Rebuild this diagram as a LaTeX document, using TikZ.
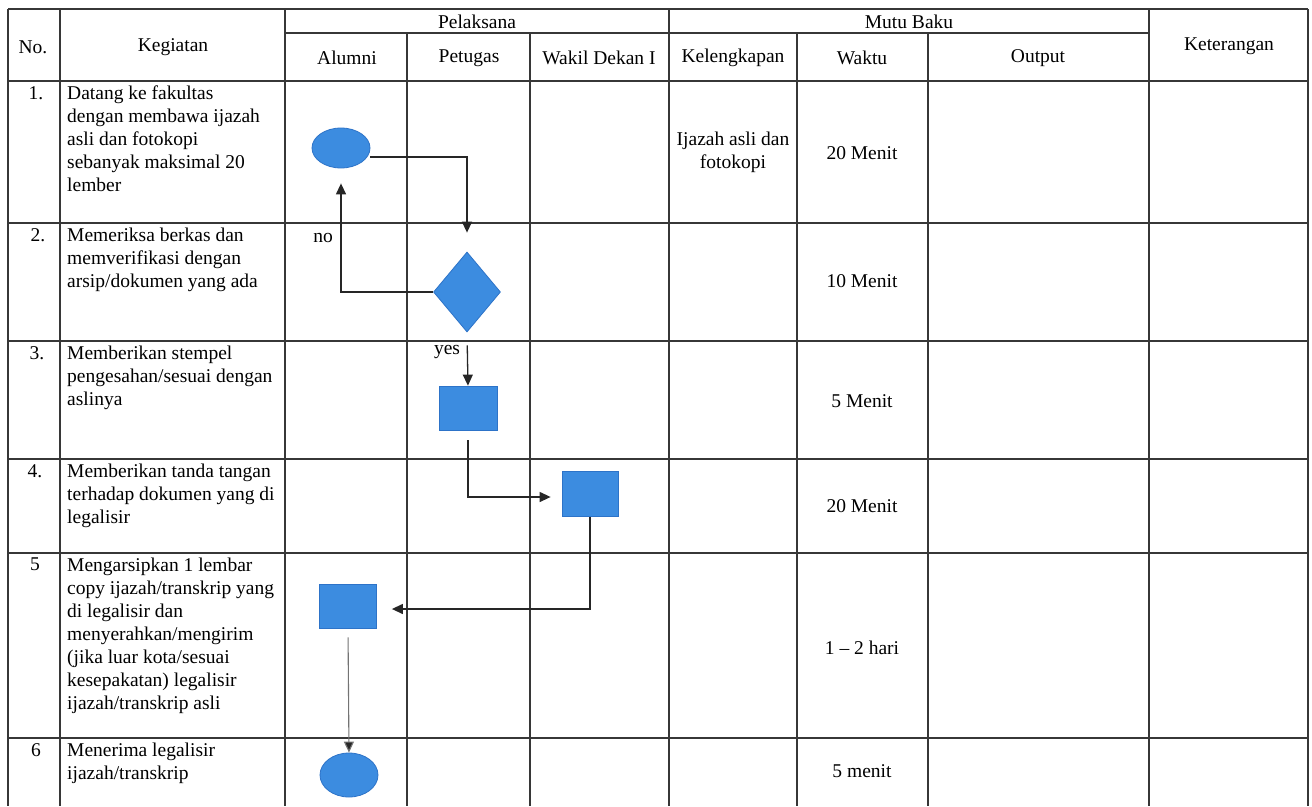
\documentclass[tikz,border=0pt]{standalone}
\usepackage{fontspec}
\setmainfont{Liberation Serif}
\usetikzlibrary{arrows.meta,shapes.geometric}
\definecolor{shapeblue}{RGB}{60,140,224}
\definecolor{shapeedge}{RGB}{45,115,200}
\definecolor{gridcol}{RGB}{55,55,55}
\tikzset{
  grid/.style={draw=gridcol,line width=1.4pt},
  txt/.style={inner sep=0pt,font=\fontsize{19.5}{23}\selectfont},
  ltxt/.style={txt,align=left,anchor=north west},
  ctxt/.style={txt,align=center},
  numtxt/.style={txt,anchor=north},
  oval/.style={ellipse,fill=shapeblue,draw=shapeedge,line width=0.8pt,inner sep=0pt},
  procbox/.style={rectangle,fill=shapeblue,draw=shapeedge,line width=0.8pt,inner sep=0pt},
  decision/.style={diamond,fill=shapeblue,draw=shapeedge,line width=0.8pt,inner sep=0pt,aspect=0.84},
  conn/.style={draw=black!85,line width=1.3pt,-{Triangle[length=11pt,width=10pt]}},
  connlight/.style={draw=black!55,line width=1.1pt,-{Triangle[length=11pt,width=10pt,fill=black!85]}},
}
\begin{document}
\begin{tikzpicture}[x=1pt,y=-1pt]
\useasboundingbox[fill=white] (0,0) rectangle (1312,806);
% grid
\draw[grid] (8,9) -- (1308,9);
\draw[grid] (285,33) -- (1149,33);
\foreach \yy in {81,223,341,459,553,738} \draw[grid] (8,\yy) -- (1308,\yy);
\foreach \xx in {8,60,285,669,1149,1308} \draw[grid] (\xx,9) -- (\xx,806);
\foreach \xx in {407,530,797,928} \draw[grid] (\xx,33) -- (\xx,806);
% header
\node[ctxt] (hno) at (33,47) {No.};
\node[ctxt] (hkeg) at (173,47) {Kegiatan};
\node[ctxt] (hpel) at (477,22) {Pelaksana};
\node[ctxt] (hmutu) at (909,22) {Mutu Baku};
\node[ctxt] (halu) at (347,58) {Alumni};
\node[ctxt] (hpet) at (469,58) {Petugas};
\node[ctxt] (hwak) at (599,58) {Wakil Dekan I};
\node[ctxt] (hkel) at (733,58) {Kelengkapan};
\node[ctxt] (hwkt) at (862,58) {Waktu};
\node[ctxt] (hout) at (1038,58) {Output};
\node[ctxt] (hket) at (1229,46) {Keterangan};
% numbers
\node[numtxt] (n1) at (36,86) {1.};
\node[numtxt] (n2) at (38,228) {2.};
\node[numtxt] (n3) at (37,346) {3.};
\node[numtxt] (n4) at (35,464) {4.};
\node[numtxt] (n5) at (35,558) {5};
\node[numtxt] (n6) at (36,743) {6};
% activities
\node[ltxt] (k1) at (67,86) {Datang ke fakultas\\dengan membawa ijazah\\asli dan fotokopi\\sebanyak maksimal 20\\lember};
\node[ltxt] (k2) at (67,228) {Memeriksa berkas dan\\memverifikasi dengan\\arsip/dokumen yang ada};
\node[ltxt] (k3) at (67,346) {Memberikan stempel\\pengesahan/sesuai dengan\\aslinya};
\node[ltxt] (k4) at (67,464) {Memberikan tanda tangan\\terhadap dokumen yang di\\legalisir};
\node[ltxt] (k5) at (67,558) {Mengarsipkan 1 lembar\\copy ijazah/transkrip yang\\di legalisir dan\\menyerahkan/mengirim\\(jika luar kota/sesuai\\kesepakatan) legalisir\\ijazah/transkrip asli};
\node[ltxt] (k6) at (67,743) {Menerima legalisir\\ijazah/transkrip};
% kelengkapan
\node[ctxt] (kel1) at (733,152) {Ijazah asli dan\\fotokopi};
% waktu
\node[ctxt] (w1) at (862,153) {20 Menit};
\node[ctxt] (w2) at (862,281) {10 Menit};
\node[ctxt] (w3) at (862,401) {5 Menit};
\node[ctxt] (w4) at (862,506) {20 Menit};
\node[ctxt] (w5) at (862,648) {1 -- 2 hari};
\node[ctxt] (w6) at (862,771) {5 menit};
% shapes
\node[oval,minimum width=58pt,minimum height=40pt] (o1) at (341,148) {};
\node[decision,minimum width=67pt,minimum height=80pt] (d2) at (467,292) {};
\node[procbox,minimum width=58pt,minimum height=44pt] (r3) at (468,408) {};
\node[procbox,minimum width=56pt,minimum height=45pt] (r4) at (590,494) {};
\node[procbox,minimum width=57pt,minimum height=44pt] (r5) at (348,606) {};
\node[oval,minimum width=58pt,minimum height=44pt] (o6) at (349,775) {};
% labels
\node[ctxt] (lno) at (323,238) {no};
\node[ctxt] (lyes) at (447,352) {yes};
% connectors
\draw[conn,shorten >=19pt] ([yshift=-9pt]o1.east) -| (d2.north);
\draw[conn,shorten >=15pt] (d2.west) -| (o1.south);
\draw[conn,shorten <=13pt] (d2.south) -- (r3.north);
\draw[conn,shorten <=10pt,shorten >=11pt] (r3.south) |- ([yshift=-3pt]r4.west);
\draw[conn,shorten >=15pt] (r4.south) |- ([yshift=-3pt]r5.east);
\draw[connlight,shorten <=9pt] (r5.south) -- (o6.north);
\end{tikzpicture}
\end{document}
